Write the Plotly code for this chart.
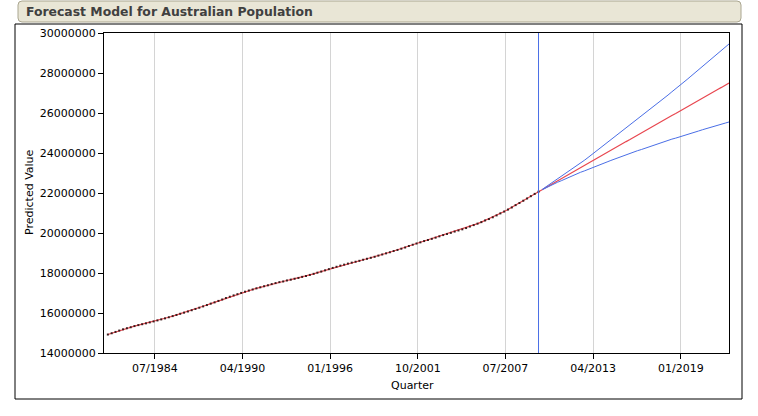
import plotly.graph_objects as go
import pandas as pd

# ---------------- data (population, thousands) ----------------
actual_start = "1981-06-01"
actual_k = [
    14923, 14988, 15054,
    15121, 15184, 15239, 15288,
    15346, 15394, 15439, 15483,
    15531, 15579, 15629, 15680,
    15732, 15788, 15845, 15902,
    15961, 16018, 16076, 16139,
    16203, 16264, 16330, 16398,
    16468, 16532, 16604, 16675,
    16748, 16814, 16880, 16940,
    17003, 17065, 17123, 17176,
    17233, 17284, 17338, 17386,
    17444, 17495, 17543, 17577,
    17627, 17667, 17712, 17753,
    17806, 17855, 17904, 17958,
    18016, 18072, 18133, 18193,
    18254, 18311, 18368, 18417,
    18469, 18517, 18563, 18609,
    18662, 18711, 18760, 18810,
    18869, 18926, 18983, 19038,
    19098, 19153, 19215, 19275,
    19351, 19413, 19475, 19533,
    19597, 19651, 19708, 19767,
    19833, 19896, 19952, 20008,
    20072, 20127, 20183, 20247,
    20323, 20395, 20468, 20544,
    20627, 20698, 20786, 20880,
    20980, 21072, 21173, 21278,
    21394, 21499, 21613, 21726,
    21842, 21955, 22066,
]

forecast_mid_k = [
    22175, 22290, 22388, 22501, 22615, 22714, 22827, 22940, 23040, 23153,
    23266, 23366, 23479, 23592, 23693, 23805, 23918, 24019, 24131, 24244,
    24345, 24457, 24570, 24671, 24784, 24896, 24997, 25110, 25222, 25323,
    25436, 25548, 25649, 25762, 25875, 25975, 26088, 26201, 26301, 26414,
    26527, 26627, 26740, 26853, 26954, 27066, 27179, 27280, 27392, 27501,
]
forecast_upper_k = [
    22183, 22310, 22428, 22558, 22693, 22815, 22951, 23091, 23218, 23358,
    23500, 23630, 23775, 23921, 24054, 24201, 24350, 24486, 24634, 24786,
    24924, 25075, 25229, 25369, 25523, 25678, 25820, 25976, 26133, 26277,
    26435, 26593, 26739, 26898, 27059, 27206, 27367, 27530, 27678, 27841,
    28005, 28155, 28319, 28485, 28637, 28801, 28968, 29122, 29288, 29451,
]
forecast_lower_k = [
    22167, 22266, 22350, 22444, 22537, 22614, 22703, 22791, 22863, 22948,
    23033, 23102, 23183, 23265, 23332, 23409, 23488, 23552, 23628, 23704,
    23766, 23839, 23913, 23973, 24045, 24116, 24174, 24244, 24313, 24369,
    24437, 24505, 24559, 24626, 24693, 24744, 24809, 24874, 24924, 24987,
    25051, 25099, 25161, 25223, 25271, 25331, 25392, 25438, 25496, 25551,
]

tick_dates = ["1984-07-01", "1990-04-01", "1996-01-01", "2001-10-01",
              "2007-07-01", "2013-04-01", "2019-01-01"]
tick_labels = ["07/1984", "04/1990", "01/1996", "10/2001",
               "07/2007", "04/2013", "01/2019"]
y_ticks = [14000000, 16000000, 18000000, 20000000, 22000000,
           24000000, 26000000, 28000000, 30000000]
x_range = ["1981-03-01", "2022-03-01"]

title_text = "Forecast Model for Australian Population"
x_title = "Quarter"
y_title = "Predicted Value"

# ---------------- derived ----------------
actual = [v * 1000 for v in actual_k]
mid = [v * 1000 for v in forecast_mid_k]
upper = [v * 1000 for v in forecast_upper_k]
lower = [v * 1000 for v in forecast_lower_k]

all_dates = pd.date_range(actual_start, periods=len(actual) + len(mid), freq="3MS")
act_dates = all_dates[:len(actual)]
fc_dates = all_dates[len(actual):]
last_actual_date = act_dates[-1]

RED = "#e8464f"
BLUE = "#4a6ee6"
FONT = "DejaVu Sans"

W, H = 758, 416
L, R, T, B = 104, 29, 33, 63
PW, PH = W - L - R, H - T - B


def px(xp):
    return (xp - L) / PW


def py(yp):
    return (H - B - yp) / PH


fig = go.Figure()

# fitted / forecast center line
fig.add_trace(go.Scatter(
    x=list(act_dates) + list(fc_dates), y=actual + mid,
    mode="lines", line=dict(color=RED, width=1.2), hoverinfo="skip",
    showlegend=False))
# confidence limits
fig.add_trace(go.Scatter(x=fc_dates, y=upper, mode="lines",
                         line=dict(color=BLUE, width=1), showlegend=False))
fig.add_trace(go.Scatter(x=fc_dates, y=lower, mode="lines",
                         line=dict(color=BLUE, width=1), showlegend=False))
# actual points
fig.add_trace(go.Scatter(x=act_dates, y=actual, mode="markers",
                         marker=dict(symbol="square", size=2, color="#3a1c1c",
                                     line=dict(width=0)),
                         showlegend=False))

shapes = []
# title bar (rounded)
x0, x1, y0, y1, r = 18, 741, 1, 22, 4
rx, ry = r / PW, r / PH
path = (f"M {px(x0)+rx},{py(y0)} L {px(x1)-rx},{py(y0)} "
        f"Q {px(x1)},{py(y0)} {px(x1)},{py(y0)-ry} "
        f"L {px(x1)},{py(y1)+ry} Q {px(x1)},{py(y1)} {px(x1)-rx},{py(y1)} "
        f"L {px(x0)+rx},{py(y1)} Q {px(x0)},{py(y1)} {px(x0)},{py(y1)+ry} "
        f"L {px(x0)},{py(y0)-ry} Q {px(x0)},{py(y0)} {px(x0)+rx},{py(y0)} Z")
shapes.append(dict(type="path", xref="paper", yref="paper", path=path,
                   fillcolor="#e9e6d6", line=dict(color="#aaa690", width=1),
                   layer="below"))
# outer box
shapes.append(dict(type="rect", xref="paper", yref="paper",
                   x0=px(15), x1=px(742), y0=py(24), y1=py(399),
                   line=dict(color="black", width=1), fillcolor="rgba(0,0,0,0)",
                   layer="below"))
# forecast origin line
shapes.append(dict(type="line", xref="x", yref="paper",
                   x0=last_actual_date, x1=last_actual_date, y0=0, y1=1,
                   line=dict(color=BLUE, width=1)))

annotations = [
    dict(text=title_text, xref="paper", yref="paper", x=px(24), y=py(12),
         xanchor="left", yanchor="middle", showarrow=False,
         font=dict(family=FONT, size=12.4, color="#404040", weight="bold")),
    dict(text=x_title, xref="paper", yref="paper", x=px(412), y=py(385),
         xanchor="center", yanchor="middle", showarrow=False,
         font=dict(family=FONT, size=11, color="black")),
    dict(text=y_title, xref="paper", yref="paper", x=px(29), y=py(192),
         xanchor="center", yanchor="middle", showarrow=False, textangle=-90,
         font=dict(family=FONT, size=11, color="black")),
]

fig.update_layout(
    width=W, height=H, autosize=False,
    margin=dict(l=L, r=R, t=T, b=B, pad=0),
    paper_bgcolor="white", plot_bgcolor="white",
    shapes=shapes, annotations=annotations,
    font=dict(family=FONT, size=11, color="black"),
    xaxis=dict(range=x_range, tickvals=tick_dates, ticktext=tick_labels,
               ticks="outside", ticklen=5, tickcolor="black",
               showline=True, linecolor="black", linewidth=1, mirror=True,
               showgrid=True, gridcolor="#d4d4d4", gridwidth=1,
               zeroline=False, tickfont=dict(family=FONT, size=11, color="black")),
    yaxis=dict(range=[y_ticks[0], y_ticks[-1]], tickvals=y_ticks,
               tickformat="d", ticks="outside", ticklen=5, tickcolor="black",
               showline=True, linecolor="black", linewidth=1, mirror=True,
               showgrid=False, zeroline=False,
               tickfont=dict(family=FONT, size=11, color="black")),
    hovermode=False,
)

fig.write_html("out.html",
               config={"displayModeBar": False, "staticPlot": True},
               post_script="document.body.style.margin='0';"
                           "document.body.style.overflow='hidden';")
